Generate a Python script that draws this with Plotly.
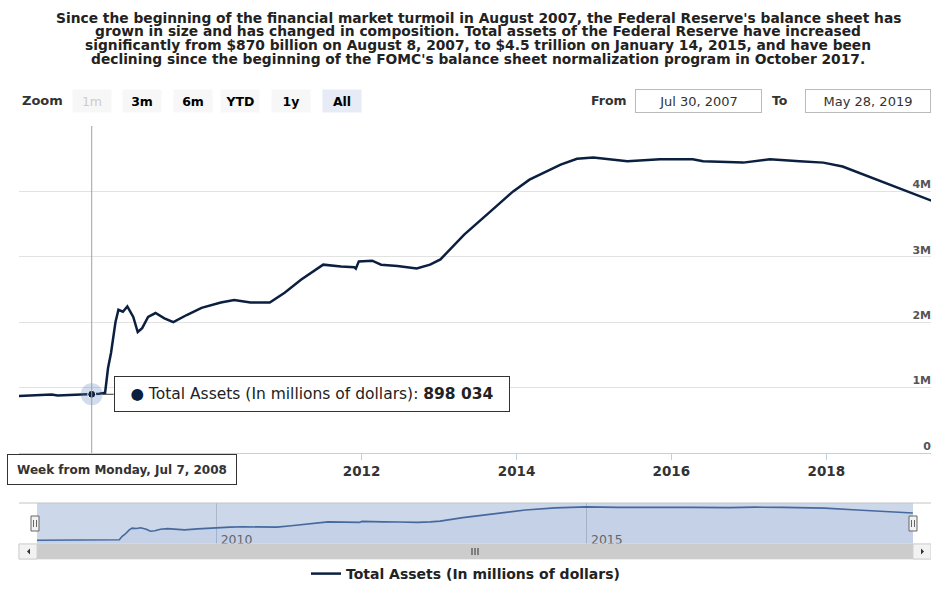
import plotly.graph_objects as go
from datetime import datetime

# ---------------- data ----------------
title_lines = [
    "Since the beginning of the financial market turmoil in August 2007, the Federal Reserve's balance sheet has",
    "grown in size and has changed in composition. Total assets of the Federal Reserve have increased",
    "significantly from $870 billion on August 8, 2007, to $4.5 trillion on January 14, 2015, and have been",
    "declining since the beginning of the FOMC's balance sheet normalization program in October 2017.",
]
series_name = "Total Assets (In millions of dollars)"

dates = [
    "2007-07-30", "2007-09-03", "2007-10-15", "2007-12-03", "2007-12-31", "2008-01-28",
    "2008-03-10", "2008-04-28", "2008-06-02", "2008-07-07", "2008-08-11", "2008-09-08",
    "2008-09-22", "2008-10-06", "2008-10-27", "2008-11-10", "2008-12-01", "2008-12-22",
    "2009-01-19", "2009-02-09", "2009-03-02", "2009-03-30", "2009-05-04", "2009-06-15",
    "2009-07-27", "2009-09-28", "2009-12-07", "2010-03-08", "2010-05-10", "2010-07-26",
    "2010-10-25", "2011-01-03", "2011-03-21", "2011-07-04", "2011-09-26", "2011-11-28",
    "2011-12-05", "2011-12-19", "2012-02-20", "2012-04-02", "2012-06-18", "2012-09-17",
    "2012-11-19", "2013-01-07", "2013-04-29", "2013-08-26", "2013-12-16", "2014-03-03",
    "2014-07-28", "2014-10-13", "2014-12-29", "2015-06-08", "2015-11-09", "2016-04-11",
    "2016-05-30", "2016-12-05", "2017-04-10", "2017-08-28", "2017-12-18", "2018-03-19",
    "2018-08-27", "2019-01-28", "2019-05-27",
]
assets = [
    870000, 875000, 882000, 885000, 895000, 880000,
    885000, 890000, 893000, 898034, 905000, 920000,
    1300000, 1530000, 2000000, 2190000, 2160000, 2240000,
    2080000, 1850000, 1910000, 2080000, 2140000, 2060000,
    2000000, 2110000, 2220000, 2300000, 2340000, 2300000,
    2300000, 2450000, 2650000, 2880000, 2850000, 2840000,
    2820000, 2930000, 2940000, 2880000, 2860000, 2820000,
    2880000, 2960000, 3340000, 3680000, 4000000, 4180000,
    4410000, 4500000, 4520000, 4460000, 4490000, 4490000,
    4460000, 4440000, 4490000, 4460000, 4440000, 4380000,
    4180000, 4000000, 3840000,
]

# 2008 and 2010 labels sit under the date box in the reference, so only these show
x_tick_vals = ["2012-01-01", "2014-01-01", "2016-01-01", "2018-01-01"]
x_tick_text = ["2012", "2014", "2016", "2018"]
y_tick_vals = [0, 1000000, 2000000, 3000000, 4000000, 5000000]
y_tick_text = ["0", "1M", "2M", "3M", "4M", ""]
nav_tick_vals = ["2010-01-01", "2015-01-01"]
nav_tick_text = ["2010", "2015"]
zoom_buttons = ["1m", "3m", "6m", "YTD", "1y", "All"]
from_label = "Jul 30, 2007"
to_label = "May 28, 2019"
hover_date = "2008-07-07"

# ---------------- helpers ----------------
W, H = 931, 590
FONT = "DejaVu Sans"
NAVY = "#0b1f3f"


def px(x):
    return x / W


def py(y):
    return 1 - y / H


hi = dates.index(hover_date)
hv = assets[hi]
hv_text = f"{hv:,}".replace(",", " ")
week_text = "Week from Monday, " + datetime.strptime(hover_date, "%Y-%m-%d").strftime("%b %-d, %Y")

fig = go.Figure()

# main series
fig.add_trace(go.Scatter(
    x=dates, y=assets, mode="lines", name=series_name,
    line=dict(color=NAVY, width=2.5), xaxis="x", yaxis="y", showlegend=True,
))
# hovered point halo + dot
fig.add_trace(go.Scatter(
    x=[dates[hi]], y=[assets[hi]], mode="markers", showlegend=False,
    marker=dict(size=22, color="rgba(90,130,185,0.28)", line=dict(width=0)),
    xaxis="x", yaxis="y",
))
fig.add_trace(go.Scatter(
    x=[dates[hi]], y=[assets[hi]], mode="markers", showlegend=False,
    marker=dict(size=8, color=NAVY, line=dict(width=1, color="white")),
    xaxis="x", yaxis="y",
))
# navigator series
fig.add_trace(go.Scatter(
    x=dates, y=assets, mode="lines", showlegend=False,
    line=dict(color="#46699d", width=1.6), fill="tozeroy",
    fillcolor="rgba(69,114,167,0.06)", xaxis="x2", yaxis="y2",
))

shapes = []
# navigator mask
shapes.append(dict(type="rect", xref="paper", yref="paper", x0=px(37), x1=px(913),
                   y0=py(544), y1=py(503), fillcolor="#cdd7ea", line=dict(width=0), layer="below"))
# navigator outline top
shapes.append(dict(type="line", xref="paper", yref="paper", x0=px(19), x1=1, y0=py(503), y1=py(503),
                   line=dict(color="#c4c4c4", width=1)))
# scrollbar track + thumb
shapes.append(dict(type="rect", xref="paper", yref="paper", x0=px(19), x1=1, y0=py(559), y1=py(544),
                   fillcolor="#eeeeee", line=dict(color="#e0e0e0", width=1)))
shapes.append(dict(type="rect", xref="paper", yref="paper", x0=px(37), x1=px(913), y0=py(559), y1=py(544),
                   fillcolor="#cccccc", line=dict(width=0)))
# scroll buttons
for x0, x1 in [(19, 37), (913, 931)]:
    shapes.append(dict(type="rect", xref="paper", yref="paper", x0=px(x0), x1=px(x1), y0=py(559), y1=py(544),
                       fillcolor="#f2f2f2", line=dict(color="#d0d0d0", width=1)))
shapes.append(dict(type="path", xref="paper", yref="paper",
                   path=f"M {px(30)} {py(548.5)} L {px(30)} {py(554.5)} L {px(27)} {py(551.5)} Z",
                   fillcolor="#333", line=dict(width=0)))
shapes.append(dict(type="path", xref="paper", yref="paper",
                   path=f"M {px(921)} {py(548.5)} L {px(921)} {py(554.5)} L {px(924)} {py(551.5)} Z",
                   fillcolor="#333", line=dict(width=0)))
# grip
for gx in (472, 475, 478):
    shapes.append(dict(type="line", xref="paper", yref="paper", x0=px(gx), x1=px(gx), y0=py(548), y1=py(555),
                       line=dict(color="#333", width=1)))
# handles
for hx in (35, 913):
    shapes.append(dict(type="rect", xref="paper", yref="paper", x0=px(hx - 4), x1=px(hx + 4), y0=py(531), y1=py(516),
                       fillcolor="#f2f2f2", line=dict(color="#666", width=1)))
    for d in (-1.5, 1.5):
        shapes.append(dict(type="line", xref="paper", yref="paper", x0=px(hx + d), x1=px(hx + d),
                           y0=py(527), y1=py(520), line=dict(color="#666", width=1)))
# crosshair
shapes.append(dict(type="line", xref="x", yref="y", x0=dates[hi], x1=dates[hi], y0=0, y1=5000000,
                   line=dict(color="#a0a0a0", width=1)))

annotations = []
title_y = [18, 31.5, 45, 58.5]
for t, yy in zip(title_lines, title_y):
    annotations.append(dict(text=t, x=px(478), y=py(yy), xref="paper", yref="paper", showarrow=False,
                            xanchor="center", yanchor="middle",
                            font=dict(family=FONT, size=13.8, color="#222", weight="bold")))
# range selector
annotations.append(dict(text="Zoom", x=px(20), y=py(101), xref="paper", yref="paper", showarrow=False,
                        xanchor="left", yanchor="middle", font=dict(family=FONT, size=13, color="#333", weight="bold")))
btn_cx = [92, 142, 193, 240, 291, 342]
for b, cx in zip(zoom_buttons, btn_cx):
    annotations.append(dict(
        text=b, x=px(cx), y=py(101), xref="paper", yref="paper", showarrow=False,
        xanchor="center", yanchor="middle", width=38, height=22,
        bgcolor="#e6ebf5" if b == "All" else "#f7f7f7", borderpad=0,
        font=dict(family=FONT, size=12.5, color="#cccccc" if b == "1m" else "#000", weight="normal" if b == "1m" else "bold")))
annotations.append(dict(text="From", x=px(609), y=py(101), xref="paper", yref="paper", showarrow=False,
                        xanchor="center", yanchor="middle", font=dict(family=FONT, size=12.5, color="#333", weight="bold")))
annotations.append(dict(text=from_label, x=px(698.5), y=py(101), xref="paper", yref="paper", showarrow=False,
                        xanchor="center", yanchor="middle", width=123, height=20, bordercolor="#bbbbbb",
                        borderwidth=1, bgcolor="white", font=dict(family=FONT, size=13, color="#333")))
annotations.append(dict(text="To", x=px(780), y=py(101), xref="paper", yref="paper", showarrow=False,
                        xanchor="center", yanchor="middle", font=dict(family=FONT, size=12.5, color="#333", weight="bold")))
annotations.append(dict(text=to_label, x=px(868), y=py(101), xref="paper", yref="paper", showarrow=False,
                        xanchor="center", yanchor="middle", width=122, height=20, bordercolor="#bbbbbb",
                        borderwidth=1, bgcolor="white", font=dict(family=FONT, size=13, color="#333")))
# tooltip
annotations.append(dict(
    text=f"<span style='color:{NAVY}'>●</span> {series_name}: <b>{hv_text}</b>",
    x=dates[hi], y=assets[hi], xref="x", yref="y", showarrow=True, arrowhead=0, arrowwidth=1,
    arrowcolor="#333", ax=22, ay=0, standoff=11, xanchor="left", yanchor="middle",
    width=392, height=32, bgcolor="rgba(255,255,255,0.92)", bordercolor="#333", borderwidth=1,
    font=dict(family=FONT, size=15.5, color="#222")))
# week label
annotations.append(dict(
    text=week_text, x=dates[hi], y=py(469), xref="x", yref="paper", showarrow=False,
    xanchor="center", yanchor="middle", xshift=30.5, width=226, height=27,
    bgcolor="white", bordercolor="#333", borderwidth=1,
    font=dict(family=FONT, size=12, color="#333", weight="bold")))

fig.update_layout(
    width=W, height=H, autosize=False,
    margin=dict(l=0, r=0, t=0, b=0),
    paper_bgcolor="white", plot_bgcolor="rgba(0,0,0,0)",
    hovermode=False,
    font=dict(family=FONT, color="#333"),
    xaxis=dict(
        domain=[px(19), 1], range=["2007-07-30", "2019-05-10"], type="date", anchor="y",
        tickvals=x_tick_vals, ticktext=x_tick_text, showgrid=False, zeroline=False,
        showline=True, linecolor="#c0d0e0", linewidth=1, ticks="outside", ticklen=6, tickcolor="#c0d0e0",
        tickfont=dict(family=FONT, size=13.5, color="#333", weight="bold"),
    ),
    yaxis=dict(
        domain=[py(453), py(126)], range=[0, 5000000], anchor="x", side="right",
        tickvals=y_tick_vals, ticktext=y_tick_text, ticklabelposition="inside", ticklabelshift=-7,
        ticklabelstandoff=-3,
        showgrid=True, gridcolor="#e2e2e2", gridwidth=1, zeroline=False, showline=False, ticks="",
        tickfont=dict(family=FONT, size=11, color="#555", weight="bold"),
    ),
    xaxis2=dict(
        domain=[px(37), px(913)], range=["2007-07-30", "2019-05-28"], type="date", anchor="y2",
        tickvals=nav_tick_vals, ticktext=nav_tick_text, ticklabelposition="inside right",
        ticklabelstandoff=-8, ticklabelshift=4,
        showgrid=True, gridcolor="#a9b6cc", zeroline=False, showline=False, ticks="",
        tickfont=dict(family=FONT, size=12.5, color="#666"),
    ),
    yaxis2=dict(
        domain=[py(544), py(503)], range=[460000, 4940000], anchor="x2",
        showgrid=False, zeroline=False, showticklabels=False, showline=False, ticks="",
    ),
    legend=dict(
        orientation="h", x=0.5, xanchor="center", y=0, yanchor="bottom",
        font=dict(family=FONT, size=14, color="#222", weight="bold"), itemwidth=30,
        bgcolor="rgba(0,0,0,0)",
    ),
    shapes=shapes,
    annotations=annotations,
)

fig.write_html("out.html", post_script="document.body.style.margin='0px';",
               config={"displayModeBar": False})
